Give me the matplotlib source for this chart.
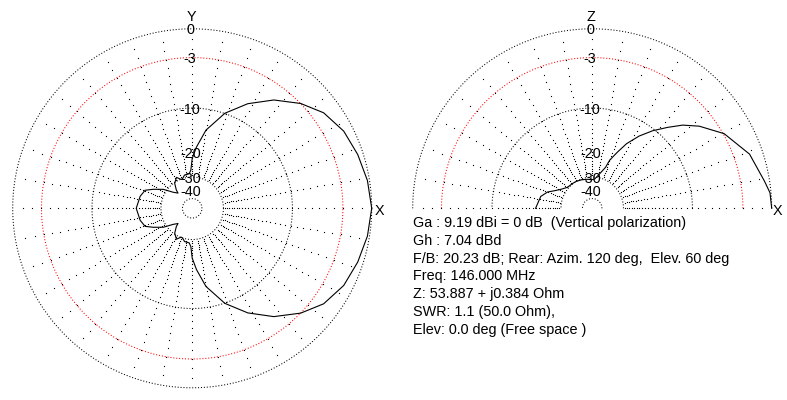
import numpy as np
import matplotlib
matplotlib.use('Agg')
import matplotlib.pyplot as plt

plt.rcParams['font.family'] = ['Liberation Sans', 'DejaVu Sans']

# azimuth pattern (upper half, mirrored below), deg / dB
az_deg = [0, 9, 18, 27, 36, 44, 53, 62, 71, 80, 86, 90, 92, 95, 103, 108, 111,
          117, 125, 131, 133, 140, 146.7, 154, 159, 167, 180]
az_db = [0, -0.2, -0.53, -0.93, -1.71, -2.98, -4.81, -7.13, -9.94, -14.0, -18.4,
         -22.0, -26.5, -28.2, -28.5, -30.0, -30.2, -28.2, -30.4, -34.4, -37.0,
         -33.8, -28.3, -24.4, -21.8, -20.8, -20.0]

# elevation pattern, deg / dB
el_deg = [0, 5, 9, 19, 29.5, 37.5, 42.6, 47, 52, 57, 62, 66, 70, 72, 78, 85, 90,
          100, 110, 120, 128, 140, 148, 154, 160, 167, 180]
el_db = [0, -0.1, -0.5, -1.3, -2.9, -4.9, -6.5, -8.3, -10.3, -12.6, -15.4, -18.5,
         -21.5, -24.5, -28.0, -31.0, -31.5, -31.0, -30.5, -30.0, -29.8, -29.3,
         -27.5, -25.5, -22.8, -21.0, -19.8]

ring_db = [0, -3, -10, -30, -50]
ring_col = ['k', 'red', 'k', 'k', 'k']
label_db = [0, -3, -10, -20, -30, -40]
label_txt = ['0', '-3', '-10', '-20', '-30', '-40']
dot_db = np.arange(-29, 0, 1)

info = ['Ga : 9.19 dBi = 0 dB  (Vertical polarization)',
        'Gh : 7.04 dBd',
        'F/B: 20.23 dB; Rear: Azim. 120 deg,  Elev. 60 deg',
        'Freq: 146.000 MHz',
        'Z: 53.887 + j0.384 Ohm',
        'SWR: 1.1 (50.0 Ohm),',
        'Elev: 0.0 deg (Free space )']

W, H = 787, 400
R = 179.5
FS = 10.4
fig = plt.figure(figsize=(W / 100, H / 100), dpi=100)


# ARRL style log scale: r = 0.89^(-dB/2)
def to_r(db):
    return 0.89 ** (-np.asarray(db, dtype=float) / 2)


def from_r(r):
    r = np.clip(np.asarray(r, dtype=float), 1e-300, None)
    return -2 * np.log(r) / np.log(0.89)


def make_polar(cx, cy, tmax, xlab, ylab, xoff):
    ax = fig.add_axes([(cx - R) / W, (H - cy - R) / H, 2 * R / W, 2 * R / H],
                      projection='polar')
    ax.set_rscale('function', functions=(to_r, from_r))
    ax.set_ylim(-200, 0)
    ax.axis('off')
    th = np.radians(np.linspace(0, tmax, 721))
    for db, c in zip(ring_db, ring_col):
        ax.plot(th, np.full_like(th, db), color=c, lw=0.75,
                ls=(0, (1, 1.8)), clip_on=False)
    spokes = np.radians(np.arange(0, tmax + 1 if tmax < 360 else 360, 10))
    TT, RR = np.meshgrid(spokes, dot_db)
    ax.plot(TT.ravel(), RR.ravel(), ls='none', marker='s', ms=0.8, mew=0,
            color='k', clip_on=False)
    for db, t in zip(label_db, label_txt):
        ax.annotate(t, (np.pi / 2, db), xytext=(-2, 0), textcoords='offset pixels',
                    ha='center', va='center_baseline', fontsize=FS,
                    annotation_clip=False)
    ax.annotate(ylab, (np.pi / 2, 0), xytext=(-1, 13), textcoords='offset pixels',
                ha='center', va='center_baseline', fontsize=FS, annotation_clip=False)
    ax.annotate(xlab, (0, 0), xytext=(xoff, -1), textcoords='offset pixels',
                ha='center', va='center_baseline', fontsize=FS, annotation_clip=False)
    return ax


ax1 = make_polar(192.2, 208.3, 360, 'X', 'Y', 8)
a = np.array(az_deg)
d = np.array(az_db)
th_az = np.radians(np.concatenate([a, 360 - a[::-1][1:]]))
db_az = np.concatenate([d, d[::-1][1:]])
ax1.plot(th_az, db_az, color='k', lw=0.8, clip_on=False)

ax2 = make_polar(592.2, 208.3, 180, 'X', 'Z', 5.5)
ax2.plot(np.radians(el_deg), el_db, color='k', lw=0.8, clip_on=False)

for i, s in enumerate(info):
    fig.text(412.7 / W, 1 - (226.7 + i * 17.93) / H, s, fontsize=FS,
             ha='left', va='baseline')

fig.savefig('out.png', dpi=100, facecolor='white')
